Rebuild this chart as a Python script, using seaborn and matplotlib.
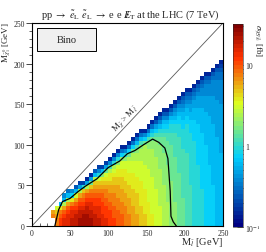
import numpy as np
import pandas as pd
import matplotlib
matplotlib.use("Agg")
import matplotlib.pyplot as plt
import seaborn as sns
from matplotlib.colors import LinearSegmentedColormap, LogNorm
from matplotlib.patches import Rectangle

sns.set_style("ticks")
plt.rcParams['font.family'] = ['Liberation Serif', 'DejaVu Serif']
plt.rcParams['mathtext.fontset'] = 'stix'

# bins are 5 GeV wide, 0..250 GeV on both axes
bin_width = 5
n_bins = 50

# one string per slepton-mass column (x = 25, 30, ... 245 GeV), read from y = 0 upwards.
# each character is a level: 0.1 fb * 10**(0.1 * level), '.' = no entry
levels = "0123456789ABCDEFGHIJKLMNO"
first_col = 5
sigma_cols = [
    "..JI",                               # 25
    "JJIHF",                              # 30
    "LLKJG8",                             # 35
    "MMLKIE86",                           # 40
    "MMMLKIE85",                          # 45
    "NNMMLJG96",                          # 50
    "NNNMLKIF84",                         # 55
    "OONNMLKIE73",                        # 60
    "OOONMLKJHA3",                        # 65
    "OOONNMLKIE72",                       # 70
    "OONNMMLKJHC72",                      # 75
    "NNNMMLLKJIHE84",                     # 80
    "NNMMMLLKJIHFA63",                    # 85
    "MMMLLLKKJIHGD83",                    # 90
    "MMLLLKKJJIHGFC73",                   # 95
    "LLLLKKJJIIHGGEB62",                  # 100
    "LLKKKJJJIIHHGFEA62",                 # 105
    "KKKKJJJIIIHHGGFDA62",                # 110
    "KKKJJJIIIHHHGGFFD952",               # 115
    "JJJJJIIIHHHGGGFFDA62",               # 120
    "JJJIIIIHHHGGGFFFEC952",              # 125
    "IIIIIHHHHGGGGFFFEEC952",             # 130
    "IIIHHHHHGGGGFFFFEEDB852",            # 135
    "HHHHHGGGGGGFFFFFEEEDB852",           # 140
    "HHHGGGGGGFFFFFFEEEEEC962",           # 145
    "GGGGGGFFFFFFFFEEEEEDDB852",          # 150
    "GGGFFFFFFFFFEEEEEEEDDCA852",         # 155
    "FFFFFFFFFEEEEEEEEDDDDCB9742",        # 160
    "FFFFFEEEEEEEEEDDDDDDCCBA8642",       # 165
    "EEEEEEEEEEDDDDDDDDCCCCBA98642",      # 170
    "EEEEEEDDDDDDDDDCCCCCCBBA98642",      # 175
    "DDDDDDDDDDDCCCCCCCCCBBBAA98642",     # 180
    "DDDDDDCCCCCCCCCCCBBBBBBAA987642",    # 185
    "CCCCCCCCCCCCCBBBBBBBBBAAA9987642",   # 190
    "CCCCCCCBBBBBBBBBBBBAAAAA998876542",  # 195
    "BBBBBBBBBBBBBBBBBBAAAAAAA998876542",  # 200
    "BBBBBBBBBBAAAAAAAAAAAAA99988776542",  # 205
    "AAAAAAAAAAAAAAAAAAAAA99999888776542",  # 210
    "AAAAAAAAAAAAAAA99999999998888777" "6542",  # 215
    "AAAAAAAAA99999999999999888888777" "66542",  # 220
    "99999999999999999999888888887777" "666542",  # 225
    "99999999999999988888888888877777" "666542",  # 230
    "99999999998888888888888887777777" "6666542",  # 235
    "88888888888888888888887777777776" "666655" "42",  # 240
    "88888888888888888877777777777766" "6666" "55" "432",  # 245
]

# exclusion contour (GeV)
contour_x = [30, 35, 40, 50, 60, 70, 85, 100, 115, 125, 135, 146, 158, 166, 174, 178, 181, 182, 185, 189]
contour_y = [0, 20, 30, 34, 42, 49, 58, 72, 80, 89, 93, 100, 107, 103, 96, 83, 43, 12, 5, 0]

tick_vals = [0, 50, 100, 150, 200, 250]
cbar_ticks = [0.1, 1, 10]
cbar_ticklabels = [r"10$^{-1}$", "1", "10"]

grid = np.full((n_bins, n_bins), np.nan)
for k, col in enumerate(sigma_cols):
    for j, ch in enumerate(col):
        if ch != '.':
            grid[j, first_col + k] = 10 ** (-1 + 0.1 * levels.index(ch))
df = pd.DataFrame(grid)

# ROOT-like gradient palette
root_pal = LinearSegmentedColormap.from_list(
    "rootpal",
    [(0.00, (0.00, 0.00, 0.51)),
     (0.34, (0.00, 0.81, 1.00)),
     (0.61, (0.87, 1.00, 0.12)),
     (0.84, (1.00, 0.20, 0.00)),
     (1.00, (0.51, 0.00, 0.00))], N=50)

fig = plt.figure(figsize=(2.66, 2.53), dpi=100)
ax = fig.add_axes([0.120, 0.103, 0.718, 0.802])
cax = fig.add_axes([0.876, 0.099, 0.036, 0.802])

sns.heatmap(df, ax=ax, cmap=root_pal, norm=LogNorm(vmin=0.1, vmax=32),
            cbar=False, xticklabels=False, yticklabels=False)
ax.set_xlim(0, n_bins)
ax.set_ylim(0, n_bins)
for sp in ax.spines.values():
    sp.set_visible(True)
    sp.set_linewidth(0.8)
    sp.set_color('black')

# diagonal and contour
ax.plot([0, n_bins], [0, n_bins], color='0.35', lw=0.6)
ax.plot(np.array(contour_x) / bin_width, np.array(contour_y) / bin_width, color='black', lw=0.9)

ax.text(122 / bin_width, 133 / bin_width, r"M$_{\tilde{\chi}}$ > M$_{\tilde{l}}$",
        rotation=46, ha='center', va='center', fontsize=6.5)

ax.add_patch(Rectangle((6.5 / bin_width, 216 / bin_width), 77 / bin_width, 28 / bin_width,
                       facecolor='#f0f0f0', edgecolor='black', lw=0.7, zorder=5))
ax.text(45 / bin_width, 230 / bin_width, "Bino", ha='center', va='center', fontsize=7.5, zorder=6)

# axes ticks
ax.set_xticks([t / bin_width for t in tick_vals])
ax.set_xticklabels([str(t) for t in tick_vals], fontsize=5.5)
ax.set_yticks([t / bin_width for t in tick_vals])
ax.set_yticklabels([str(t) for t in tick_vals], fontsize=5.5, rotation=0)
ax.set_xticks(np.arange(0, n_bins + 1, 2), minor=True)
ax.set_yticks(np.arange(0, n_bins + 1, 2), minor=True)
ax.tick_params(axis='x', which='major', direction='in', length=4, width=0.6, pad=2)
ax.tick_params(axis='x', which='minor', direction='in', length=2, width=0.5)
ax.tick_params(axis='y', which='major', direction='out', length=4.5, width=0.6, pad=0.5)
ax.tick_params(axis='y', which='minor', direction='out', length=2.5, width=0.5)
ax.set_xlabel("")
ax.set_ylabel("")

# colour bar
cb = fig.colorbar(ax.collections[0], cax=cax)
cb.outline.set_linewidth(0.4)
cb.set_ticks(cbar_ticks)
cb.set_ticklabels(cbar_ticklabels)
cax.tick_params(which='both', direction='in', right=True, labelsize=5.5, pad=2, width=0.5)
cax.tick_params(which='major', length=4)
cax.tick_params(which='minor', length=2)

fig.text(0.49, 0.94, r"pp $\rightarrow$ $\tilde{e}_{\rm L}$ $\tilde{e}_{\rm L}$ $\rightarrow$ e e $E\!\!\!/_{\rm T}$ at the LHC (7 TeV)",
         ha='center', va='center', fontsize=7.5)
fig.text(0.838, 0.04, r"M$_{\tilde{l}}$ [GeV]", ha='right', va='center', fontsize=7.5)
fig.text(0.026, 0.91, r"M$_{\tilde{\chi}^0_1}$ [GeV]", rotation=90, ha='center', va='top', fontsize=6.5)
fig.text(0.968, 0.905, r"$\sigma_{95\%}$ [fb]", rotation=-90, ha='center', va='top', fontsize=6.5)

fig.savefig("out.png", dpi=100)
